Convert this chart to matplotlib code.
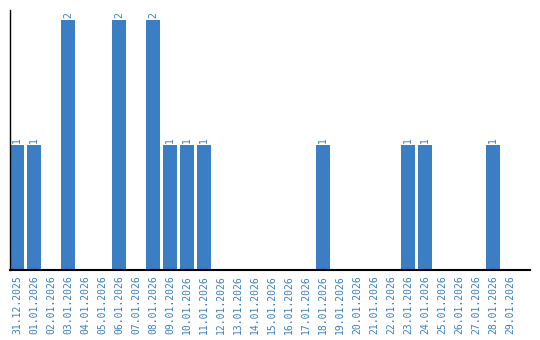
import matplotlib
matplotlib.use("Agg")
import matplotlib.pyplot as plt
import numpy as np

dates = ["31.12.2025"] + ["%02d.01.2026" % d for d in range(1, 30)]
counts = [1, 1, 0, 2, 0, 0, 2, 0, 2, 1, 1, 1, 0, 0, 0, 0, 0, 0, 1,
          0, 0, 0, 0, 1, 1, 0, 0, 0, 1, 0]

blue = "#3b7ec3"

fig = plt.figure(figsize=(5.4, 3.4), dpi=100)
ax = fig.add_axes([10/540, 70/340, 520/540, 260/340])

x = np.arange(len(dates))
ax.bar(x, counts, width=0.82, color=blue)

for xi, c in zip(x, counts):
    if c > 0:
        ax.text(xi, c + 0.02, str(c), rotation=90, ha="center", va="bottom",
                color=blue, fontsize=7, family="DejaVu Sans Mono")

ax.set_xlim(-0.41, 30.18)
ax.set_ylim(0, 2.08)
ax.set_xticks(x)
ax.set_xticklabels(dates, rotation=90, color=blue, fontsize=7,
                   family="DejaVu Sans Mono")
ax.tick_params(axis="x", length=0, pad=4)
ax.set_yticks([])
ax.spines["top"].set_visible(False)
ax.spines["right"].set_visible(False)
ax.spines["left"].set_linewidth(1)
ax.spines["bottom"].set_linewidth(1.5)

fig.savefig("out.png", dpi=100)
